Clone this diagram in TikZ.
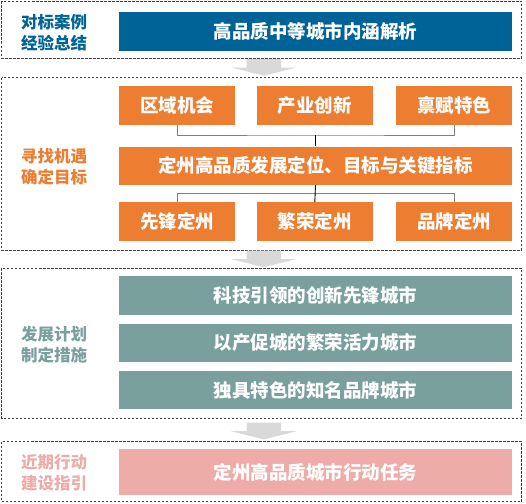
\documentclass[tikz,border=0pt]{standalone}
\usepackage{fontspec}
\setmainfont{Noto Sans CJK SC}
\usetikzlibrary{calc}

\definecolor{caseblue}{RGB}{0,99,152}
\definecolor{goalorange}{RGB}{237,125,49}
\definecolor{planteal}{RGB}{122,160,158}
\definecolor{actpink}{RGB}{237,172,167}
\definecolor{arrowgray}{RGB}{217,217,217}

\begin{document}
\begin{tikzpicture}[x=1pt, y=-1pt,
  box/.style={inner sep=0pt, text=white, font=\fontsize{18.5}{20}\selectfont\bfseries},
  wide/.style={box, minimum width=392.4pt, minimum height=38.5pt},
  small/.style={box, minimum width=115.7pt, minimum height=38.5pt},
  frame/.style={draw=black!75, dashed, dash pattern=on 2.5pt off 1.5pt, line width=0.7pt},
  side/.style={align=center, font=\fontsize{16.5}{21}\selectfont\bfseries},
  link/.style={draw=black!50, line width=0.9pt}]
  \useasboundingbox (0,0) rectangle (526,503);
  % dashed frames round the four stages
  \draw [frame] (1.5,1.5) rectangle (521.5,58);
  \draw [frame] (1.5,77.7) rectangle (521.5,250);
  \draw [frame] (1.5,268.3) rectangle (521.5,418.3);
  \draw [frame] (1.5,441.7) rectangle (521.5,501.7);
  % gray down arrows between the frames
  \foreach \t in {59, 250.5, 422.7}
    \fill [arrowgray] (246.7,\t) -- (281,\t) -- (281,\t+8.5) -- (296.7,\t+8.5)
      -- (263.8,\t+16.7) -- (231,\t+8.5) -- (246.7,\t+8.5) -- cycle;
  % stage 1
  \node [side, text=caseblue] (caselbl) at (54,32.5) {对标案例\\经验总结};
  \node [wide, fill=caseblue] (neihan) at (315.5,31.5) {高品质中等城市内涵解析};
  % stage 2
  \node [side, text=goalorange] (goallbl) at (54,166.3) {寻找机遇\\确定目标};
  \node [small, fill=goalorange] (quyu) at (177.3,105.5) {区域机会};
  \node [small, fill=goalorange] (chanye) at (314.8,105.5) {产业创新};
  \node [small, fill=goalorange] (bingfu) at (454,105.5) {禀赋特色};
  \node [wide, fill=goalorange] (dingwei) at (315.5,165.8) {定州高品质发展定位、目标与关键指标};
  \node [small, fill=goalorange] (xianfeng) at (177.3,221.5) {先锋定州};
  \node [small, fill=goalorange] (fanrong) at (314.8,221.5) {繁荣定州};
  \node [small, fill=goalorange] (pinpai) at (454,221.5) {品牌定州};
  % tree lines
  \coordinate (jtop) at (315.5,135);
  \coordinate (jbot) at (315.5,193.3);
  \draw [link] (quyu.south) |- (jtop) -| (bingfu.south);
  \draw [line width=0.9pt] (jtop) -- (dingwei.north);
  \draw [link] (xianfeng.north) |- (jbot) -| (pinpai.north);
  \draw [line width=0.9pt] (dingwei.south) -- (fanrong.north);
  % stage 3
  \node [side, text=planteal] (planlbl) at (54,344.7) {发展计划\\制定措施};
  \node [wide, fill=planteal] (keji) at (315.5,295.5) {科技引领的创新先锋城市};
  \node [wide, fill=planteal] (yichan) at (315.5,342.8) {以产促城的繁荣活力城市};
  \node [wide, fill=planteal] (duju) at (315.5,390) {独具特色的知名品牌城市};
  % stage 4
  \node [side, text=actpink] (actlbl) at (54,472.3) {近期行动\\建设指引};
  \node [wide, fill=actpink, minimum height=46pt] (renwu) at (315.5,472) {定州高品质城市行动任务};
\end{tikzpicture}
\end{document}
